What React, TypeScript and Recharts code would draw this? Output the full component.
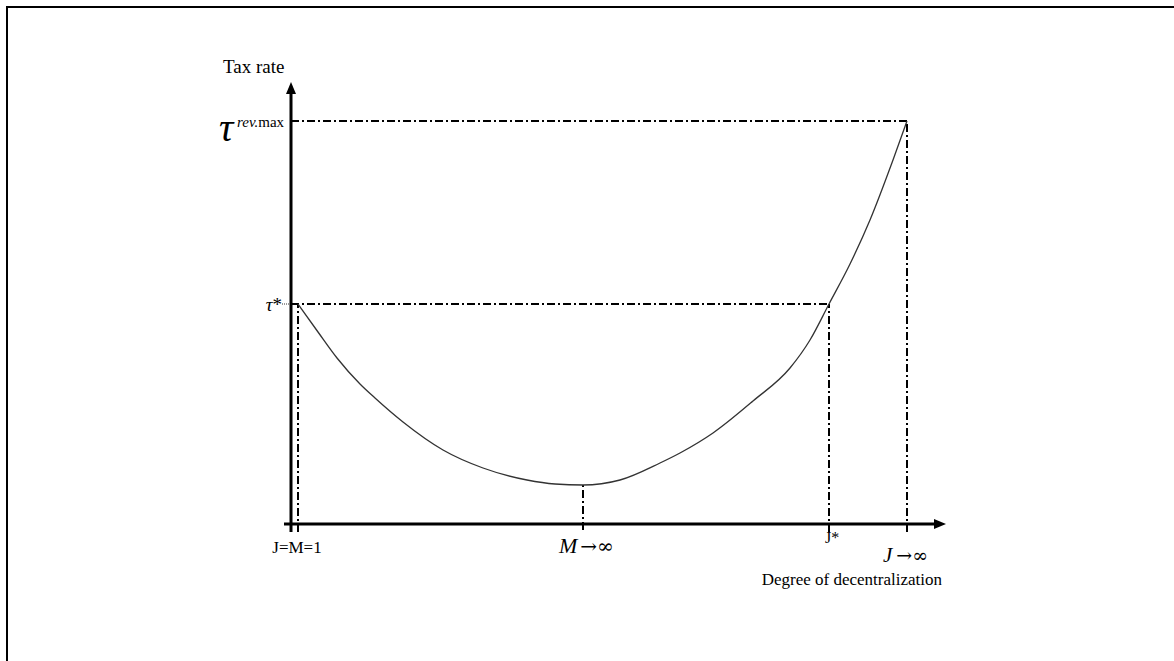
import { ComposedChart, Line, XAxis, YAxis, ReferenceLine, ReferenceDot } from 'recharts';

// curve (x = degree of decentralization, y = tax rate)
const curveX = [7, 27, 46, 69, 84, 112, 152, 192, 236, 264, 292, 329, 369, 389, 422, 462, 499, 519, 538, 559, 579, 602, 616];
const curveY = [220, 192, 166, 140, 126, 102, 74, 56, 44, 40, 39, 44, 61, 71, 91, 123, 156, 184, 220, 260, 304, 364, 403];

// marked levels on the axes
const tauStar = 220;
const tauMax = 403;
const jOne = 7;
const mInf = 292;
const jStar = 538;
const jInf = 616;

const X_MAX = 655;
const Y_MAX = 442;

const data = curveX.map((x, i) => ({ x, y: curveY[i] }));

// pixel helpers: chart origin sits at (291, 524)
const px = (v: number) => v - 291;
const py = (v: number) => 524 - v;

const serif = '"Liberation Serif", "Times New Roman", serif';
const symbol = '"DejaVu Serif", serif';
const dashDot = '8 3 2 3';

const txt = (x: number, y: number, node: any) => (
  <ReferenceDot x={px(x)} y={py(y)} r={0} ifOverflow="visible"
    shape={(p: any) => <g transform={`translate(${p.cx},${p.cy})`} fontFamily={serif} fill="#000">{node}</g>} />
);

export default function App() {
  return (
    <div style={{ position: 'fixed', inset: 0, overflow: 'hidden', background: '#fff' }}>
      <div style={{ position: 'absolute', left: 6, top: 6, width: 1400, height: 900, border: '2px solid #000' }} />
      <div style={{ position: 'absolute', left: 0, top: 0 }}>
        <ComposedChart width={1174} height={661} data={data}
          margin={{ top: 82, right: 1174 - 946, bottom: 661 - 524, left: 291 }}>
          <XAxis type="number" dataKey="x" domain={[0, X_MAX]} hide allowDataOverflow />
          <YAxis type="number" domain={[0, Y_MAX]} hide allowDataOverflow />

          {/* dash-dot guides */}
          <ReferenceLine segment={[{ x: 0, y: tauMax }, { x: jInf, y: tauMax }]} stroke="#000" strokeWidth={2} strokeDasharray={dashDot} ifOverflow="visible" />
          <ReferenceLine segment={[{ x: 0, y: tauStar }, { x: jStar, y: tauStar }]} stroke="#000" strokeWidth={2} strokeDasharray={dashDot} ifOverflow="visible" />
          <ReferenceLine segment={[{ x: -9, y: tauStar }, { x: 0, y: tauStar }]} stroke="#000" strokeWidth={0.8} strokeDasharray="1 1" ifOverflow="visible" />
          <ReferenceLine segment={[{ x: jOne, y: -8 }, { x: jOne, y: tauStar }]} stroke="#000" strokeWidth={2} strokeDasharray={dashDot} ifOverflow="visible" />
          <ReferenceLine segment={[{ x: mInf, y: -6 }, { x: mInf, y: 39 }]} stroke="#000" strokeWidth={2} strokeDasharray={dashDot} ifOverflow="visible" />
          <ReferenceLine segment={[{ x: jStar, y: -8 }, { x: jStar, y: tauStar }]} stroke="#000" strokeWidth={2} strokeDasharray={dashDot} ifOverflow="visible" />
          <ReferenceLine segment={[{ x: jInf, y: -8 }, { x: jInf, y: tauMax }]} stroke="#000" strokeWidth={2} strokeDasharray={dashDot} ifOverflow="visible" />

          {/* axes with arrow heads */}
          <ReferenceLine segment={[{ x: -7, y: 0 }, { x: X_MAX - 10, y: 0 }]} stroke="#000" strokeWidth={3} ifOverflow="visible" />
          <ReferenceLine segment={[{ x: 0, y: -8 }, { x: 0, y: Y_MAX - 10 }]} stroke="#000" strokeWidth={3} ifOverflow="visible" />
          <ReferenceDot x={X_MAX} y={0} r={0} ifOverflow="visible"
            shape={(p: any) => <path d={`M${p.cx},${p.cy} L${p.cx - 12},${p.cy - 5} L${p.cx - 12},${p.cy + 5} Z`} fill="#000" />} />
          <ReferenceDot x={0} y={Y_MAX} r={0} ifOverflow="visible"
            shape={(p: any) => <path d={`M${p.cx},${p.cy} L${p.cx - 5},${p.cy + 12} L${p.cx + 5},${p.cy + 12} Z`} fill="#000" />} />

          <Line type="monotone" dataKey="y" stroke="#333" strokeWidth={1.3} dot={false} isAnimationActive={false} />

          {txt(223, 73, <text fontSize={19}>Tax rate</text>)}
          {txt(219, 141, <text fontSize={40} fontStyle="italic">τ</text>)}
          {txt(237, 127, <text fontSize={15}><tspan fontStyle="italic">rev.</tspan>max</text>)}
          {txt(282, 311, <text fontSize={19} textAnchor="end"><tspan fontStyle="italic">τ</tspan>*</text>)}
          {txt(297, 553, <text fontSize={17} textAnchor="middle">J=M=1</text>)}
          {txt(559, 553, <text fontSize={22}><tspan fontStyle="italic">M</tspan><tspan fontFamily={symbol} fontSize={20} dx={3}>→∞</tspan></text>)}
          {txt(825, 543, <text fontSize={16}>J*</text>)}
          {txt(883, 562, <text fontSize={21}><tspan fontStyle="italic">J</tspan><tspan fontFamily={symbol} fontSize={19} dx={4}>→∞</tspan></text>)}
          {txt(942, 585, <text fontSize={17} textAnchor="end">Degree of decentralization</text>)}
        </ComposedChart>
      </div>
    </div>
  );
}
